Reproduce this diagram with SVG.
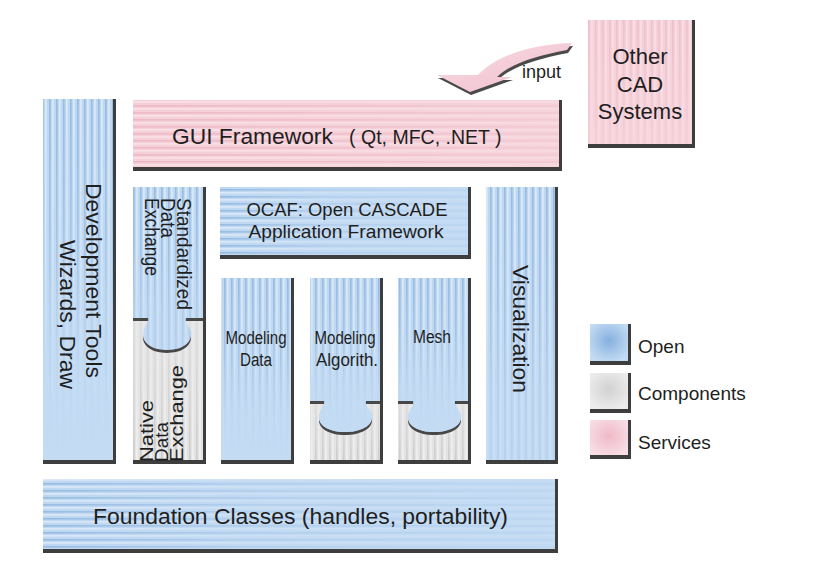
<svg xmlns="http://www.w3.org/2000/svg" xmlns:xlink="http://www.w3.org/1999/xlink" width="817" height="569" viewBox="0 0 817 569">
<style>
  text { font-family: "Liberation Sans", Arial, "Noto Sans", sans-serif; fill: #1e1e1e; }
  .sh { fill: #3e3e3e; }
  .t22 { font-size: 22px; }
  .t19 { font-size: 19px; }
  .t18 { font-size: 18px; }
</style>
<defs>
  <pattern id="vB" width="7" height="10" patternUnits="userSpaceOnUse">
    <rect width="7" height="10" fill="#bfd8f1"/>
    <rect x="0" width="1.6" height="10" fill="#97bbe2"/>
    <rect x="3.2" width="1.4" height="10" fill="#e1edf9"/>
  </pattern>
  <pattern id="hB" width="10" height="7" patternUnits="userSpaceOnUse">
    <rect width="10" height="7" fill="#bfd8f1"/>
    <rect y="0" width="10" height="1.6" fill="#97bbe2"/>
    <rect y="3.2" width="10" height="1.4" fill="#e1edf9"/>
  </pattern>
  <pattern id="vG" width="7" height="10" patternUnits="userSpaceOnUse">
    <rect width="7" height="10" fill="#e2e2e2"/>
    <rect x="0" width="1.6" height="10" fill="#c9c9c9"/>
    <rect x="3.2" width="1.4" height="10" fill="#f5f5f5"/>
  </pattern>
  <pattern id="hP" width="10" height="7" patternUnits="userSpaceOnUse">
    <rect width="10" height="7" fill="#f5cfd8"/>
    <rect y="0" width="10" height="1.6" fill="#ebb6c4"/>
    <rect y="3.2" width="10" height="1.4" fill="#fbe6eb"/>
  </pattern>
  <pattern id="vP" width="7" height="10" patternUnits="userSpaceOnUse">
    <rect width="7" height="10" fill="#f5cfd8"/>
    <rect x="0" width="1.6" height="10" fill="#ecbac7"/>
    <rect x="3.2" width="1.4" height="10" fill="#fbe6eb"/>
  </pattern>
  <linearGradient id="fVB" x1="0" y1="0" x2="0" y2="1">
    <stop offset="0" stop-color="#c3dbf3" stop-opacity="0"/>
    <stop offset="0.35" stop-color="#c3dbf3" stop-opacity="0.25"/>
    <stop offset="0.75" stop-color="#c3dbf3" stop-opacity="0.9"/>
    <stop offset="1" stop-color="#c3dbf3" stop-opacity="1"/>
  </linearGradient>
  <linearGradient id="fVG" x1="0" y1="0" x2="0" y2="1">
    <stop offset="0" stop-color="#e6e6e6" stop-opacity="0.7"/>
    <stop offset="0.6" stop-color="#e6e6e6" stop-opacity="0.4"/>
    <stop offset="1" stop-color="#e6e6e6" stop-opacity="0.1"/>
  </linearGradient>
  <linearGradient id="fHB" x1="0" y1="0" x2="1" y2="0">
    <stop offset="0" stop-color="#c3dbf3" stop-opacity="0"/>
    <stop offset="0.4" stop-color="#c3dbf3" stop-opacity="0.6"/>
    <stop offset="1" stop-color="#c3dbf3" stop-opacity="0.85"/>
  </linearGradient>
  <linearGradient id="fHP" x1="0" y1="0" x2="1" y2="0">
    <stop offset="0" stop-color="#f7d6de" stop-opacity="0.1"/>
    <stop offset="1" stop-color="#f7d6de" stop-opacity="0.6"/>
  </linearGradient>
  <linearGradient id="fVP" x1="0" y1="0" x2="0" y2="1">
    <stop offset="0" stop-color="#f7d6de" stop-opacity="0.2"/>
    <stop offset="1" stop-color="#f7d6de" stop-opacity="0.7"/>
  </linearGradient>
  <linearGradient id="arrowFill" x1="0" y1="0" x2="1" y2="1">
    <stop offset="0" stop-color="#f9dde4"/>
    <stop offset="1" stop-color="#efbccb"/>
  </linearGradient>
  <radialGradient id="lgB" cx="0.5" cy="0.45" r="0.6">
    <stop offset="0" stop-color="#86b0de"/>
    <stop offset="1" stop-color="#c3dbf3"/>
  </radialGradient>
  <radialGradient id="lgG" cx="0.5" cy="0.45" r="0.6">
    <stop offset="0" stop-color="#d2d2d2"/>
    <stop offset="1" stop-color="#ececec"/>
  </radialGradient>
  <radialGradient id="lgP" cx="0.5" cy="0.45" r="0.6">
    <stop offset="0" stop-color="#efb9c8"/>
    <stop offset="1" stop-color="#f8dde4"/>
  </radialGradient>
  <path id="pzStd" d="M133,187 H203 V318 H186 C184,322 190,326 191,333 C192,343 182,350 167,350 C152,350 142,343 143,333 C144,326 150,322 148,318 H133 Z"/>
  <path id="pzAlg" d="M310,278 H380 V401 H366 C364,405 371,409 372,416 C373,426 360,432 345,432 C330,432 318,426 319,416 C320,409 326,405 324,401 H310 Z"/>
  <path id="pzMesh" d="M398,278 H468 V401 H455 C453,405 460,409 461,416 C462,426 449,432 434,432 C419,432 407,426 408,416 C409,409 415,405 413,401 H398 Z"/>
</defs>

<rect width="817" height="569" fill="#ffffff"/>

<g id="connectors">
  <g id="input-arrow">
    <path d="M573,46 C541,47 501,55 479,78 L438,78 L471,95 L513,80 L498,80 C511,67 536,59 568,53 Z" fill="#4a4a4a"/>
    <path d="M572,43 C540,44 500,52 478,75 L437,75 L470,92 L512,77 L497,77 C510,64 535,56 567,50 Z" fill="url(#arrowFill)"/>
    <text x="522" y="78" class="t18">input</text>
  </g>
</g>

<g id="dev-tools">
  <rect class="sh" x="43" y="99" width="73" height="365"/>
  <rect x="43" y="99" width="70" height="361" fill="url(#vB)"/>
  <rect x="43" y="99" width="70" height="361" fill="url(#fVB)"/>
  <text class="t22" transform="translate(86,183) rotate(90)" textLength="195" lengthAdjust="spacingAndGlyphs">Development Tools</text>
  <text class="t22" transform="translate(60,240) rotate(90)" textLength="149" lengthAdjust="spacingAndGlyphs">Wizards, Draw</text>
</g>

<g id="gui-framework">
  <rect class="sh" x="133" y="100" width="429" height="71"/>
  <rect x="133" y="100" width="426" height="67" fill="url(#hP)"/>
  <rect x="133" y="100" width="426" height="67" fill="url(#fHP)"/>
  <text x="172" y="144" xml:space="preserve"><tspan font-size="22.8px">GUI Framework</tspan><tspan font-size="19.5px">   ( Qt, MFC, .NET )</tspan></text>
</g>

<g id="other-cad">
  <rect class="sh" x="588" y="20" width="107" height="128"/>
  <rect x="588" y="20" width="104" height="124" fill="url(#vP)"/>
  <rect x="588" y="20" width="104" height="124" fill="url(#fVP)"/>
  <text class="t22" text-anchor="middle"><tspan x="640" y="64">Other</tspan><tspan x="640" y="92">CAD</tspan><tspan x="640" y="119">Systems</tspan></text>
</g>

<g id="data-exchange">
  <rect class="sh" x="133" y="187" width="73" height="277"/>
  <rect x="133" y="187" width="70" height="273" fill="url(#vG)"/>
  <rect x="133" y="318" width="70" height="142" fill="url(#fVG)"/>
  <use xlink:href="#pzStd" fill="#484848" transform="translate(0,3)"/>
  <use xlink:href="#pzStd" fill="url(#vB)"/>
  <use xlink:href="#pzStd" fill="url(#fVB)" opacity="0.6"/>
  <text font-size="20px" transform="translate(177,198) rotate(90)"><tspan x="0" y="0" textLength="112" lengthAdjust="spacingAndGlyphs">Standardized</tspan><tspan x="0" y="16" textLength="40" lengthAdjust="spacingAndGlyphs">Data</tspan><tspan x="0" y="32" textLength="78" lengthAdjust="spacingAndGlyphs">Exchange</tspan></text>
  <text font-size="18px" transform="translate(153,462) rotate(-90)"><tspan x="0" y="0" textLength="62" lengthAdjust="spacingAndGlyphs">Native</tspan><tspan x="0" y="15" textLength="40" lengthAdjust="spacingAndGlyphs">Data</tspan><tspan x="0" y="30" textLength="97" lengthAdjust="spacingAndGlyphs">Exchange</tspan></text>
</g>

<g id="ocaf">
  <rect class="sh" x="220" y="187" width="251" height="72"/>
  <rect x="220" y="187" width="248" height="68" fill="url(#hB)"/>
  <rect x="220" y="187" width="248" height="68" fill="url(#fHB)"/>
  <text font-size="18.5px" text-anchor="middle"><tspan x="347" y="216" textLength="201" lengthAdjust="spacingAndGlyphs">OCAF: Open CASCADE</tspan><tspan x="346" y="238" textLength="195" lengthAdjust="spacingAndGlyphs">Application Framework</tspan></text>
</g>

<g id="visualization">
  <rect class="sh" x="486" y="187" width="72" height="277"/>
  <rect x="486" y="187" width="69" height="273" fill="url(#vB)"/>
  <rect x="486" y="187" width="69" height="273" fill="url(#fVB)" opacity="0.7"/>
  <text class="t22" transform="translate(513,265) rotate(90)" textLength="128" lengthAdjust="spacingAndGlyphs">Visualization</text>
</g>

<g id="modeling-data">
  <rect class="sh" x="221" y="278" width="73" height="186"/>
  <rect x="221" y="278" width="70" height="182" fill="url(#vB)"/>
  <rect x="221" y="278" width="70" height="182" fill="url(#fVB)"/>
  <text font-size="18px" text-anchor="middle"><tspan x="256" y="344" textLength="61" lengthAdjust="spacingAndGlyphs">Modeling</tspan><tspan x="256" y="366" textLength="32" lengthAdjust="spacingAndGlyphs">Data</tspan></text>
</g>

<g id="modeling-algorithms">
  <rect class="sh" x="310" y="278" width="73" height="186"/>
  <rect x="310" y="278" width="70" height="182" fill="url(#vG)"/>
  <rect x="310" y="401" width="70" height="59" fill="url(#fVG)"/>
  <use xlink:href="#pzAlg" fill="#484848" transform="translate(0,3)"/>
  <use xlink:href="#pzAlg" fill="url(#vB)"/>
  <use xlink:href="#pzAlg" fill="url(#fVB)"/>
  <text font-size="18px" text-anchor="middle"><tspan x="345" y="344" textLength="61" lengthAdjust="spacingAndGlyphs">Modeling</tspan><tspan x="347" y="366" textLength="62" lengthAdjust="spacingAndGlyphs">Algorith.</tspan></text>
</g>

<g id="mesh">
  <rect class="sh" x="398" y="278" width="73" height="186"/>
  <rect x="398" y="278" width="70" height="182" fill="url(#vG)"/>
  <rect x="398" y="401" width="70" height="59" fill="url(#fVG)"/>
  <use xlink:href="#pzMesh" fill="#484848" transform="translate(0,3)"/>
  <use xlink:href="#pzMesh" fill="url(#vB)"/>
  <use xlink:href="#pzMesh" fill="url(#fVB)"/>
  <text font-size="18px" text-anchor="middle" x="432" y="343" textLength="38" lengthAdjust="spacingAndGlyphs">Mesh</text>
</g>

<g id="foundation-classes">
  <rect class="sh" x="43" y="479" width="515" height="74"/>
  <rect x="43" y="479" width="512" height="70" fill="url(#hB)"/>
  <rect x="43" y="479" width="512" height="70" fill="url(#fHB)"/>
  <text font-size="22px" x="93" y="524" textLength="415" lengthAdjust="spacingAndGlyphs">Foundation Classes (handles, portability)</text>
</g>

<g id="legend">
  <g id="legend-open">
    <rect class="sh" x="590" y="324" width="41" height="41"/>
    <rect x="590" y="324" width="38" height="37" fill="url(#lgB)"/>
    <text class="t19" x="638" y="353">Open</text>
  </g>
  <g id="legend-components">
    <rect class="sh" x="590" y="373" width="41" height="40"/>
    <rect x="590" y="373" width="38" height="36" fill="url(#lgG)"/>
    <text class="t19" x="638" y="400">Components</text>
  </g>
  <g id="legend-services">
    <rect class="sh" x="590" y="420" width="41" height="39"/>
    <rect x="590" y="420" width="38" height="35" fill="url(#lgP)"/>
    <text class="t19" x="638" y="449">Services</text>
  </g>
</g>
</svg>
